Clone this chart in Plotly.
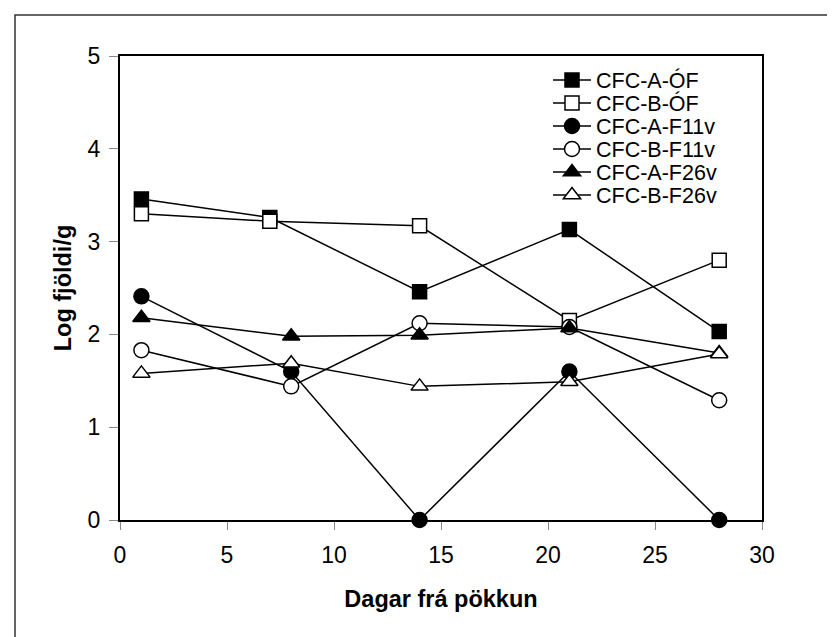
import plotly.graph_objects as go

days_sq = [1, 7, 14, 21, 28]
days_ot = [1, 8, 14, 21, 28]

series_names = ["CFC-A-ÓF", "CFC-B-ÓF", "CFC-A-F11v", "CFC-B-F11v", "CFC-A-F26v", "CFC-B-F26v"]
a_of = [3.46, 3.26, 2.46, 3.13, 2.03]
b_of = [3.30, 3.22, 3.17, 2.15, 2.80]
a_f11 = [2.41, 1.60, 0.0, 1.60, 0.0]
b_f11 = [1.83, 1.44, 2.12, 2.08, 1.29]
a_f26 = [2.18, 1.98, 1.99, 2.07, 1.80]
b_f26 = [1.58, 1.69, 1.44, 1.49, 1.79]

x_ticks = [0, 5, 10, 15, 20, 25, 30]
y_ticks = [0, 1, 2, 3, 4, 5]

W, H = 835, 637
L, R, T, B = 112, 81, 48, 125
pw = W - L - R
ph = H - T - B
FONT = "Liberation Sans, Arial, sans-serif"
FS = 23
FT = 23.5
FL = 21.5

styles = [
    (days_sq, a_of, "square", "black", 14),
    (days_sq, b_of, "square", "white", 14),
    (days_ot, a_f11, "circle", "black", 15),
    (days_ot, b_f11, "circle", "white", 15),
    (days_ot, a_f26, "triangle-up", "black", 15),
    (days_ot, b_f26, "triangle-up", "white", 15),
]
legend_rows_px = [72, 95, 118, 141, 164, 187]

fig = go.Figure()
legends = {}
for i, (name, (xs, ys, sym, fill, sz)) in enumerate(zip(series_names, styles)):
    lg = "legend" if i == 0 else f"legend{i + 1}"
    fig.add_trace(go.Scatter(
        x=xs, y=ys, name=name, mode="lines+markers", legend=lg,
        line=dict(color="black", width=1.5),
        marker=dict(symbol=sym, size=sz, color=fill, line=dict(color="black", width=1.5)),
        cliponaxis=False,
    ))
    legends[lg] = dict(
        x=(540 - L) / pw, y=1 - (legend_rows_px[i] - T) / ph,
        xanchor="left", yanchor="middle",
        bgcolor="rgba(0,0,0,0)", font=dict(size=FL, family=FONT, color="black"),
        itemwidth=38, borderwidth=0,
    )

fig.update_layout(
    width=W, height=H,
    margin=dict(l=L, r=R, t=T, b=B),
    paper_bgcolor="white", plot_bgcolor="white",
    font=dict(family=FONT, size=FS, color="black"),
    showlegend=True,
    xaxis=dict(
        range=[0, 30], tickvals=x_ticks, ticks="outside", ticklen=8, tickwidth=1,
        tickcolor="#888888", showline=True, linecolor="black", linewidth=2, mirror=True,
        showgrid=False, zeroline=False, ticklabelstandoff=5,
        tickfont=dict(size=FS),
        title=dict(text="<b>Dagar frá pökkun</b>", font=dict(size=FT), standoff=24),
    ),
    yaxis=dict(
        range=[0, 5], tickvals=y_ticks, ticks="outside", ticklen=9, tickwidth=1,
        tickcolor="#888888", showline=True, linecolor="black", linewidth=2, mirror=True,
        showgrid=False, zeroline=False, ticklabelstandoff=4,
        tickfont=dict(size=FS),
        title=dict(text="<b>Log fjöldi/g</b>", font=dict(size=FT), standoff=9),
    ),
    shapes=[dict(
        type="rect", xref="paper", yref="paper",
        x0=(7 - L) / pw, x1=(831 - L) / pw,
        y0=1 - (632 - T) / ph, y1=1 - (7 - T) / ph,
        line=dict(color="#333333", width=1.5), fillcolor="rgba(0,0,0,0)", layer="below",
    )],
    **legends,
)

fig.write_html("out.html")
